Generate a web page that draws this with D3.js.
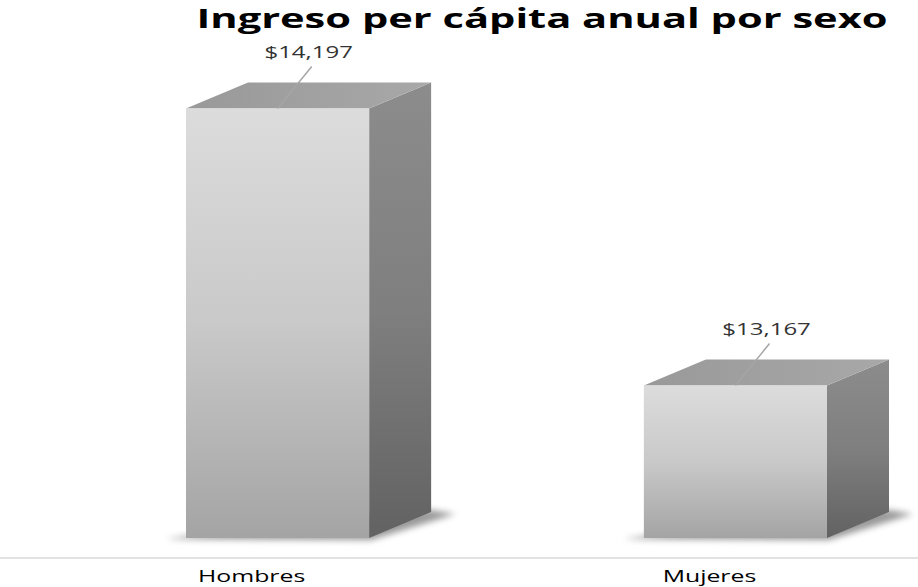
<!DOCTYPE html>
<html>
<head>
<meta charset="utf-8">
<script src="https://cdn.jsdelivr.net/npm/d3@7"></script>
<style>
  body { margin: 0; background: #fff; }
  text { font-family: "Open Sans", "DejaVu Sans", sans-serif; }
</style>
</head>
<body>
<script>
// chart data
const categories = ["Hombres", "Mujeres"];
const values = [14197, 13167];
const valueLabels = ["$14,197", "$13,167"];
const title = "Ingreso per cápita anual por sexo";

const width = 918, height = 587;
const depth = {dx: 62, dy: 26};   // 3d offset of the bars
const baseY = 538;                 // front bottom of the bars
const stretch = 1.55;              // the picture is wide: stretch the text

const svg = d3.select("body").append("svg")
    .attr("width", width)
    .attr("height", height);

const defs = svg.append("defs");

function linGrad(id, x2, y2, stops) {
  const g = defs.append("linearGradient").attr("id", id)
      .attr("x1", 0).attr("y1", 0).attr("x2", x2).attr("y2", y2);
  stops.forEach(s => g.append("stop").attr("offset", s[0]).attr("stop-color", s[1]));
}
linGrad("front", 0, 1, [[0, "#dcdcdc"], [0.5, "#c9c9c9"], [1, "#a4a4a4"]]);
linGrad("side", 0, 1, [[0, "#8c8c8c"], [0.5, "#7f7f7f"], [1, "#626262"]]);
linGrad("top", 1, 0, [[0, "#999999"], [1, "#a8a8a8"]]);

defs.append("filter").attr("id", "blur")
    .attr("x", "-20%").attr("y", "-50%").attr("width", "140%").attr("height", "200%")
  .append("feGaussianBlur").attr("stdDeviation", 3);

// scales
const x = d3.scaleBand()
    .domain(categories)
    .range([186, 827])
    .paddingInner(0.6)
    .paddingOuter(0);
const y = d3.scaleLinear()
    .domain([12600, 14600])
    .range([baseY, 0]);

const bw = x.bandwidth();

// title
svg.append("text")
    .attr("x", 542)
    .attr("y", 28)
    .attr("text-anchor", "middle")
    .style("font-size", "26px")
    .style("font-weight", "bold")
    .style("fill", "#000")
    .text(title)
    .attr("textLength", 691)
    .attr("lengthAdjust", "spacingAndGlyphs");

// axis line with the category labels
const axis = svg.append("g")
    .attr("transform", `translate(0,${558})`)
    .call(d3.axisBottom(x).tickSize(0).tickSizeOuter(0));
axis.select(".domain").remove();
axis.append("line")
    .attr("x1", 0).attr("x2", width)
    .attr("stroke", "#d9d9d9")
    .attr("stroke-width", 1.5);
axis.selectAll(".tick text")
    .attr("y", 24)
    .attr("dy", 0)
    .attr("dx", -26)
    .style("font-size", "16px")
    .style("font-family", "'Open Sans', sans-serif")
    .style("fill", "#000")
    .each(function() {
      const l = this.getComputedTextLength();
      d3.select(this).attr("textLength", l * stretch).attr("lengthAdjust", "spacingAndGlyphs");
    });

const bars = svg.selectAll(".bar")
    .data(categories.map((c, i) => ({cat: c, value: values[i], label: valueLabels[i]})))
  .enter().append("g")
    .attr("class", "bar");

// soft shadow on the floor
bars.append("polygon")
    .attr("points", d => {
      const x0 = x(d.cat), x1 = x0 + bw;
      return [[x0 - 20, baseY + 1], [x1 + 2, baseY + 2],
              [x1 + depth.dx + 24, baseY - depth.dy + 2], [x1 + depth.dx, baseY - depth.dy - 2],
              [x0, baseY - 2]].join(" ");
    })
    .attr("fill", "#6e6e6e")
    .attr("opacity", 0.7)
    .attr("filter", "url(#blur)");

// right face
bars.append("polygon")
    .attr("points", d => {
      const x1 = x(d.cat) + bw, yt = y(d.value);
      return [[x1, yt], [x1 + depth.dx, yt - depth.dy],
              [x1 + depth.dx, baseY - depth.dy], [x1, baseY]].join(" ");
    })
    .attr("fill", "url(#side)");

// top face
bars.append("polygon")
    .attr("points", d => {
      const x0 = x(d.cat), x1 = x0 + bw, yt = y(d.value);
      return [[x0, yt], [x0 + depth.dx, yt - depth.dy],
              [x1 + depth.dx, yt - depth.dy], [x1, yt]].join(" ");
    })
    .attr("fill", "url(#top)");

// front face
bars.append("rect")
    .attr("x", d => x(d.cat))
    .attr("y", d => y(d.value))
    .attr("width", bw)
    .attr("height", d => baseY - y(d.value))
    .attr("fill", "url(#front)");

// value labels with leader lines
bars.append("line")
    .attr("x1", d => x(d.cat) + bw * 0.67 + 3)
    .attr("y1", d => y(d.value) - 42)
    .attr("x2", d => x(d.cat) + bw / 2)
    .attr("y2", d => y(d.value))
    .attr("stroke", "#a6a6a6")
    .attr("stroke-width", 1.5);

bars.append("text")
    .attr("x", d => x(d.cat) + bw * 0.67)
    .attr("y", d => y(d.value) - 50)
    .attr("text-anchor", "middle")
    .style("font-size", "16px")
    .style("fill", "#333")
    .text(d => d.label)
    .each(function() {
      const l = this.getComputedTextLength();
      d3.select(this).attr("textLength", l * 1.5).attr("lengthAdjust", "spacingAndGlyphs");
    });
</script>
</body>
</html>
